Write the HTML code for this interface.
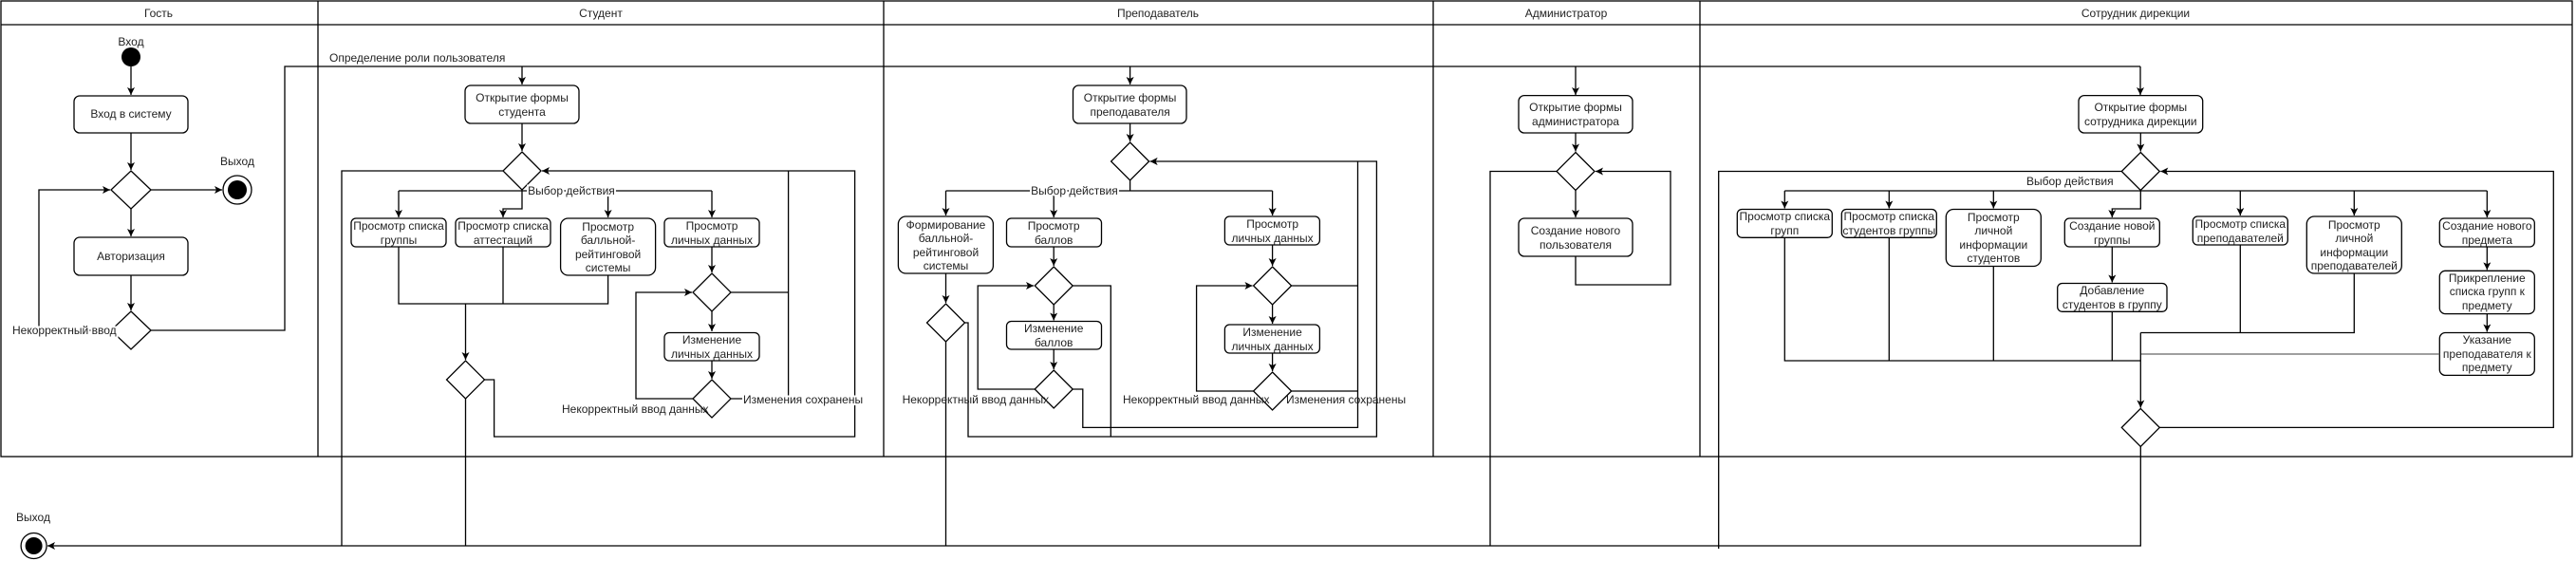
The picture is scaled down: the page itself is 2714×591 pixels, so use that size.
<!DOCTYPE html>
<html><head><meta charset="utf-8"><style>
html,body{margin:0;padding:0;background:#fff;}
svg{display:block;}
text{font-family:"Liberation Sans",sans-serif;font-size:12px;fill:#222;}
.l{fill:none;stroke:#000;stroke-width:1.3;}
.b{fill:#fff;stroke:#000;stroke-width:1.3;}
.a{fill:none;stroke:#000;stroke-width:1.3;marker-end:url(#ar);}
.bg{paint-order:stroke;stroke:#fff;stroke-width:4px;}
</style></head><body>
<svg width="2714" height="591" viewBox="0 0 2714 591" xmlns="http://www.w3.org/2000/svg">
<defs><marker id="ar" markerWidth="10" markerHeight="10" refX="8" refY="4" orient="auto" markerUnits="userSpaceOnUse"><path d="M0,0 L8,4 L0,8 L2,4 Z" fill="#000"/></marker></defs>
<!-- lanes -->
<rect x="1" y="1" width="2709" height="480" class="l"/>
<line x1="1" y1="26" x2="2710" y2="26" class="l"/>
<line x1="335" y1="1" x2="335" y2="481" class="l"/>
<line x1="931" y1="1" x2="931" y2="481" class="l"/>
<line x1="1510" y1="1" x2="1510" y2="481" class="l"/>
<line x1="1791" y1="1" x2="1791" y2="481" class="l"/>
<g text-anchor="middle">
<text x="167" y="18">Гость</text><text x="633" y="18">Студент</text><text x="1220" y="18">Преподаватель</text><text x="1650" y="18">Администратор</text><text x="2250" y="18">Сотрудник дирекции</text>
</g>
<!-- Guest -->
<text x="138" y="48" text-anchor="middle">Вход</text>
<circle cx="138" cy="60" r="10" fill="#000"/>
<path class="a" d="M138,70 V100"/>
<rect class="b" x="78" y="101" width="120" height="39" rx="6"/>
<text x="138" y="124" text-anchor="middle">Вход в систему</text>
<path class="a" d="M138,140 V179"/>
<polygon class="b" points="138,180 159,200 138,220 117,200"/>
<path class="a" d="M159,200 H234"/>
<text x="250" y="174" text-anchor="middle">Выход</text>
<circle cx="250" cy="200" r="15" class="b"/><circle cx="250" cy="200" r="10" fill="#000"/>
<path class="a" d="M138,220 V249"/>
<rect class="b" x="78" y="250" width="120" height="40" rx="6"/>
<text x="138" y="274" text-anchor="middle">Авторизация</text>
<path class="a" d="M138,290 V327"/>
<polygon class="b" points="138,328 159,348 138,368 117,348"/>
<path class="a" d="M117,348 H41 V200 H116"/>
<text x="13" y="352" class="bg">Некорректный ввод</text>
<path class="l" d="M159,348 H300 V70 H2255"/>
<text x="347" y="65">Определение роли пользователя</text>
<path class="a" d="M550,70 V89"/><path class="a" d="M1190.6,70 V89"/><path class="a" d="M1660,70 V100"/><path class="a" d="M2255,70 V100"/>
<!-- Student -->
<rect class="b" x="490" y="90" width="120" height="40" rx="6"/>
<text x="550" y="107" text-anchor="middle">Открытие формы</text><text x="550" y="122" text-anchor="middle">студента</text>
<path class="a" d="M550,130 V159"/>
<polygon class="b" points="550,160 570,180 550,200 530,180"/>
<path class="l" d="M530,180 H360 V575"/>
<path class="l" d="M420,201 H750"/>
<path class="a" d="M550,200 V220 H530 V229"/>
<path class="a" d="M420,201 V229"/><path class="a" d="M640.6,201 V229"/><path class="a" d="M750,201 V229"/>
<text x="602" y="205" text-anchor="middle" class="bg">Выбор действия</text>
<rect class="b" x="370" y="230" width="100" height="30" rx="5"/>
<text x="420" y="242" text-anchor="middle">Просмотр списка</text><text x="420" y="257" text-anchor="middle">группы</text>
<rect class="b" x="480" y="230" width="100" height="30" rx="5"/>
<text x="530" y="242" text-anchor="middle">Просмотр списка</text><text x="530" y="257" text-anchor="middle">аттестаций</text>
<rect class="b" x="590.6" y="230" width="100" height="60" rx="8"/>
<text x="640.6" y="243" text-anchor="middle">Просмотр</text><text x="640.6" y="257" text-anchor="middle">балльной-</text><text x="640.6" y="272" text-anchor="middle">рейтинговой</text><text x="640.6" y="286" text-anchor="middle">системы</text>
<rect class="b" x="700" y="230" width="100" height="30" rx="5"/>
<text x="750" y="242" text-anchor="middle">Просмотр</text><text x="750" y="257" text-anchor="middle">личных данных</text>
<path class="l" d="M420,260 V320 H640.6 V290 M530,260 V320"/>
<path class="a" d="M490.5,320 V379"/>
<polygon class="b" points="490.5,380 510.5,400 490.5,420 470.5,400"/>
<path class="l" d="M490.5,420 V575"/>
<path class="a" d="M510.5,400 H520.6 V460 H900.6 V180 H571"/>
<path class="a" d="M750,260 V287"/>
<polygon class="b" points="750,288 770,308 750,328 730,308"/>
<path class="a" d="M750,328 V349"/>
<rect class="b" x="700" y="350.5" width="100" height="29.5" rx="5"/>
<text x="750" y="362" text-anchor="middle">Изменение</text><text x="750" y="377" text-anchor="middle">личных данных</text>
<path class="a" d="M750,380 V399"/>
<polygon class="b" points="750,400 770,420 750,440 730,420"/>
<path class="l" d="M770,308 H830.6 M770,420 H830.6 V180"/>
<path class="a" d="M730,420 H670 V308 H729"/>
<text x="592" y="435">Некорректный ввод данных</text>
<text x="783" y="425" class="bg">Изменения сохранены</text>
<!-- Teacher -->
<rect class="b" x="1130.5" y="90" width="119.5" height="40" rx="6"/>
<text x="1190.6" y="107" text-anchor="middle">Открытие формы</text><text x="1190.6" y="122" text-anchor="middle">преподавателя</text>
<path class="a" d="M1190.6,130 V149"/>
<polygon class="b" points="1190.6,150 1210.6,170 1190.6,190 1170.6,170"/>
<path class="l" d="M1190.6,190 V201 M996.5,201 H1340.6"/>
<path class="a" d="M996.5,201 V227"/><path class="a" d="M1110.2,201 V229"/><path class="a" d="M1340.6,201 V227"/>
<text x="1132" y="205" text-anchor="middle" class="bg">Выбор действия</text>
<rect class="b" x="946.4" y="228" width="100" height="60" rx="8"/>
<text x="996.5" y="241" text-anchor="middle">Формирование</text><text x="996.5" y="255" text-anchor="middle">балльной-</text><text x="996.5" y="270" text-anchor="middle">рейтинговой</text><text x="996.5" y="284" text-anchor="middle">системы</text>
<path class="a" d="M996.5,288 V319"/>
<polygon class="b" points="996.5,320 1016.5,340 996.5,360 976.5,340"/>
<path class="l" d="M996.5,360 V575"/>
<path class="a" d="M1016.5,340 H1020 V460 H1450.4 V170 H1211.6"/>
<rect class="b" x="1060.5" y="230" width="100" height="30" rx="5"/>
<text x="1110.2" y="242" text-anchor="middle">Просмотр</text><text x="1110.2" y="257" text-anchor="middle">баллов</text>
<path class="a" d="M1110.2,260 V280"/>
<polygon class="b" points="1110.2,281 1130.2,301 1110.2,321 1090.2,301"/>
<path class="a" d="M1110.2,321 V337.5"/>
<rect class="b" x="1060.5" y="338.5" width="100" height="29.5" rx="5"/>
<text x="1110.2" y="350" text-anchor="middle">Изменение</text><text x="1110.2" y="365" text-anchor="middle">баллов</text>
<path class="a" d="M1110.2,368 V389"/>
<polygon class="b" points="1110.2,390 1130.2,410 1110.2,430 1090.2,410"/>
<path class="l" d="M1130.2,301 H1170.3 V460"/>
<path class="a" d="M1090.2,410 H1030.2 V301 H1089"/>
<path class="l" d="M1130.2,410 H1140.8 V450.4 H1430.5 V170"/>
<text x="950.6" y="425">Некорректный ввод данных</text>
<rect class="b" x="1290.4" y="228" width="100" height="30" rx="5"/>
<text x="1340.6" y="240" text-anchor="middle">Просмотр</text><text x="1340.6" y="255" text-anchor="middle">личных данных</text>
<path class="a" d="M1340.6,258 V280"/>
<polygon class="b" points="1340.6,281 1360.6,301 1340.6,321 1320.6,301"/>
<path class="a" d="M1340.6,321 V341"/>
<rect class="b" x="1290.4" y="342" width="100" height="30" rx="5"/>
<text x="1340.6" y="354" text-anchor="middle">Изменение</text><text x="1340.6" y="369" text-anchor="middle">личных данных</text>
<path class="a" d="M1340.6,372 V391"/>
<polygon class="b" points="1340.6,392 1360.6,412 1340.6,432 1320.6,412"/>
<path class="l" d="M1360.6,301 H1430.5 M1360.6,412 H1430.5"/>
<path class="a" d="M1320.6,412 H1260.6 V301 H1319.5"/>
<text x="1183" y="425">Некорректный ввод данных</text>
<text x="1355" y="425">Изменения сохранены</text>
<!-- Admin -->
<rect class="b" x="1600" y="100.6" width="120" height="39.4" rx="6"/>
<text x="1660" y="117" text-anchor="middle">Открытие формы</text><text x="1660" y="132" text-anchor="middle">администратора</text>
<path class="a" d="M1660,140 V159.5"/>
<polygon class="b" points="1660,160.5 1680,180.5 1660,200.5 1640,180.5"/>
<path class="a" d="M1660,200.5 V229"/>
<path class="l" d="M1640,180.5 H1570 V575"/>
<rect class="b" x="1600" y="230" width="120" height="40" rx="6"/>
<text x="1660" y="247" text-anchor="middle">Создание нового</text><text x="1660" y="262" text-anchor="middle">пользователя</text>
<path class="a" d="M1660,270 V300 H1760 V180.5 H1681"/>
<!-- Director -->
<rect class="b" x="2190" y="100.6" width="130.7" height="39.4" rx="6"/>
<text x="2255.3" y="117" text-anchor="middle">Открытие формы</text><text x="2255.3" y="132" text-anchor="middle">сотрудника дирекции</text>
<path class="a" d="M2255.3,140 V159.5"/>
<polygon class="b" points="2255.3,160.5 2275.3,180.5 2255.3,200.5 2235.3,180.5"/>
<path class="l" d="M2235.3,180.5 H1810.7 V578"/>
<path class="l" d="M1880.3,201 H2620.3"/>
<path class="a" d="M2255.3,200.5 V220 H2225.3 V229"/>
<path class="a" d="M1880.3,201 V219.5"/><path class="a" d="M1990.3,201 V219.5"/><path class="a" d="M2100.3,201 V219.5"/>
<path class="a" d="M2360.3,201 V227"/><path class="a" d="M2480.3,201 V227"/><path class="a" d="M2620.3,201 V229"/>
<text x="2135" y="195">Выбор действия</text>
<rect class="b" x="1830.3" y="220.5" width="100" height="29.8" rx="5"/>
<text x="1880.3" y="232" text-anchor="middle">Просмотр списка</text><text x="1880.3" y="247" text-anchor="middle">групп</text>
<rect class="b" x="1940.3" y="220.5" width="100" height="29.8" rx="5"/>
<text x="1990.3" y="232" text-anchor="middle">Просмотр списка</text><text x="1990.3" y="247" text-anchor="middle">студентов группы</text>
<rect class="b" x="2050.3" y="220.5" width="100" height="60" rx="8"/>
<text x="2100.3" y="233" text-anchor="middle">Просмотр</text><text x="2100.3" y="247" text-anchor="middle">личной</text><text x="2100.3" y="262" text-anchor="middle">информации</text><text x="2100.3" y="276" text-anchor="middle">студентов</text>
<rect class="b" x="2175.3" y="230" width="100" height="30" rx="5"/>
<text x="2225.3" y="242" text-anchor="middle">Создание новой</text><text x="2225.3" y="257" text-anchor="middle">группы</text>
<path class="a" d="M2225.3,260 V297.5"/>
<rect class="b" x="2167.7" y="298.5" width="115.3" height="29.8" rx="5"/>
<text x="2225.3" y="310" text-anchor="middle">Добавление</text><text x="2225.3" y="325" text-anchor="middle">студентов в группу</text>
<path class="l" d="M2225.3,328.3 V380 M1880.3,250 V380 H2255.3 M1990.3,250 V380 M2100.3,280 V380"/>
<rect class="b" x="2310.3" y="228" width="100" height="30" rx="5"/>
<text x="2360.3" y="240" text-anchor="middle">Просмотр списка</text><text x="2360.3" y="255" text-anchor="middle">преподавателей</text>
<rect class="b" x="2430.3" y="228" width="100" height="60" rx="8"/>
<text x="2480.3" y="241" text-anchor="middle">Просмотр</text><text x="2480.3" y="255" text-anchor="middle">личной</text><text x="2480.3" y="270" text-anchor="middle">информации</text><text x="2480.3" y="284" text-anchor="middle">преподавателей</text>
<path class="l" d="M2360.3,258 V350.5 M2480.3,288 V350.5 H2255.3"/>
<rect class="b" x="2570.3" y="230" width="100" height="30" rx="5"/>
<text x="2620.3" y="242" text-anchor="middle">Создание нового</text><text x="2620.3" y="257" text-anchor="middle">предмета</text>
<path class="a" d="M2620.3,260 V284.3"/>
<rect class="b" x="2570.3" y="285.3" width="100" height="45.3" rx="6"/>
<text x="2620.3" y="297" text-anchor="middle">Прикрепление</text><text x="2620.3" y="311" text-anchor="middle">списка групп к</text><text x="2620.3" y="326" text-anchor="middle">предмету</text>
<path class="a" d="M2620.3,330.6 V349.5"/>
<rect class="b" x="2570.3" y="350.5" width="100" height="44.9" rx="6"/>
<text x="2620.3" y="362" text-anchor="middle">Указание</text><text x="2620.3" y="377" text-anchor="middle">преподавателя к</text><text x="2620.3" y="391" text-anchor="middle">предмету</text>
<path d="M2570.3,373 H2255.3" fill="none" stroke="#666" stroke-width="1.3"/>
<path class="a" d="M2255.3,350.5 V429.5"/>
<polygon class="b" points="2255.3,430.4 2275.3,450.4 2255.3,470.4 2235.3,450.4"/>
<path class="a" d="M2275.3,450.4 H2690.3 V180.5 H2276.3"/>
<path class="a" d="M2255.3,470.4 V575 H50"/>
<!-- final exit -->
<text x="35" y="549" text-anchor="middle">Выход</text>
<circle cx="35.6" cy="575" r="13.5" class="b"/><circle cx="35.6" cy="575" r="9" fill="#000"/>
</svg>
</body></html>
